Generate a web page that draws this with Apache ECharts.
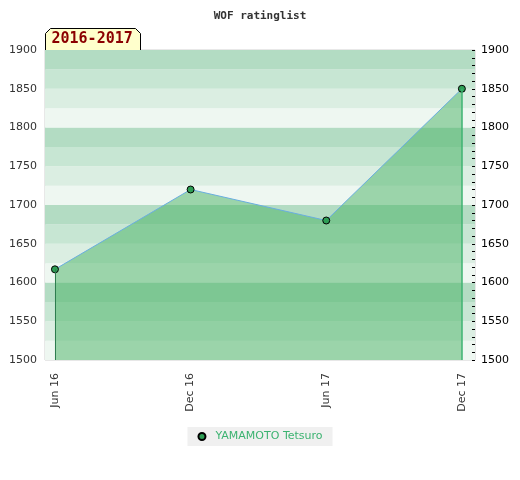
<!DOCTYPE html>
<html><head><meta charset="utf-8">
<script src="https://cdn.jsdelivr.net/npm/echarts@6/dist/echarts.min.js"></script>
<style>html,body{margin:0;padding:0;background:#fff}#c{width:520px;height:480px}</style>
</head><body><div id="c"></div>
<script>
var categories = ['Jun 16', 'Dec 16', 'Jun 17', 'Dec 17'];
var monthIndex = [0, 6, 12, 18];
var ratings = [1617, 1720, 1680, 1850];
var yTicks = [1500, 1550, 1600, 1650, 1700, 1750, 1800, 1850, 1900];
var seriesName = 'YAMAMOTO Tetsuro';
var periodLabel = '2016-2017';

var chart = echarts.init(document.getElementById('c'), null, {renderer: 'canvas'});
var data = monthIndex.map(function (m, i) { return [m, ratings[i]]; });
var yMin = yTicks[0], yMax = yTicks[yTicks.length - 1];
var last = data.length - 1;
var plain = function (v) { return String(v); };

chart.setOption({
  animation: false,
  title: {
    text: 'WOF ratinglist', left: 'center', top: 6,
    textStyle: {fontFamily: 'DejaVu Sans Mono', fontWeight: 'bold', fontSize: 11, color: '#333'}
  },
  grid: {left: 45, right: 45, top: 50, bottom: 120, show: true, borderColor: '#d0d0d0', borderWidth: 1, backgroundColor: 'transparent'},
  xAxis: {
    type: 'value', min: -0.44, max: 18.58,
    axisLine: {show: false}, axisTick: {show: false}, splitLine: {show: false},
    axisLabel: {
      rotate: 90, customValues: monthIndex, color: '#333', fontSize: 11, fontFamily: 'DejaVu Sans', margin: 13,
      formatter: function (v) { var i = monthIndex.indexOf(v); return i >= 0 ? categories[i] : ''; }
    }
  },
  yAxis: [
    {
      type: 'value', min: yMin, max: yMax, interval: 50, position: 'left',
      axisLine: {show: false}, axisTick: {show: false}, splitLine: {show: false},
      axisLabel: {color: '#333', fontSize: 11, fontFamily: 'DejaVu Sans', margin: 8, formatter: plain}
    },
    {
      type: 'value', min: yMin, max: yMax, interval: 50, position: 'right',
      axisLine: {show: false},
      axisTick: {show: true, inside: true, length: 3, lineStyle: {color: '#000'}},
      minorTick: {show: true, splitNumber: 5, length: 3, lineStyle: {color: '#000'}},
      splitLine: {show: false},
      axisLabel: {color: '#000', fontSize: 11, fontFamily: 'DejaVu Sans', margin: 6, formatter: plain}
    },
    {
      type: 'value', min: yMin, max: yMax, interval: 25, position: 'left', offset: 0,
      axisLine: {show: false}, axisTick: {show: false}, axisLabel: {show: false}, splitLine: {show: false},
      splitArea: {show: true, areaStyle: {color: ['#eef7f1', '#dbeee2', '#c7e6d3', '#b3dcc3']}}
    }
  ],
  legend: {
    bottom: 34, left: 'center', backgroundColor: '#f0f0f0', padding: [4, 10, 4, 10],
    itemWidth: 7, itemHeight: 7, itemGap: 6,
    textStyle: {color: '#3cb371', fontSize: 11, fontFamily: 'DejaVu Sans', padding: [0, 0, 0, 5]},
    data: [{name: seriesName, icon: 'circle'}]
  },
  series: [{
    name: seriesName, type: 'line', data: data, yAxisIndex: 0,
    symbol: 'circle', symbolSize: 7,
    itemStyle: {color: '#2e9e55', borderColor: '#000', borderWidth: 1},
    lineStyle: {color: '#6aaee0', width: 1},
    areaStyle: {color: 'rgba(71,177,100,0.5)', opacity: 1, origin: 'start'},
    markLine: {
      silent: true, symbol: 'none', label: {show: false},
      data: [
        [{coord: [data[0][0], yMin], lineStyle: {color: '#2e7d4f', width: 1, type: 'solid'}}, {coord: data[0]}],
        [{coord: [data[last][0], yMin], lineStyle: {color: '#3cb371', width: 1.5, type: 'solid'}}, {coord: data[last]}]
      ]
    },
    z: 3
  }],
  graphic: [{
    type: 'group', left: 45, top: 28,
    children: [
      {type: 'polygon', shape: {points: [[0, 5], [5, 0], [90, 0], [95, 5], [95, 22], [0, 22]]},
       style: {fill: '#ffffcc', stroke: '#000', lineWidth: 1}},
      {type: 'text', left: 6, top: 3, style: {text: periodLabel, fill: '#8b0000', font: 'bold 15px "DejaVu Sans Mono"'}}
    ]
  }]
});
</script></body></html>
